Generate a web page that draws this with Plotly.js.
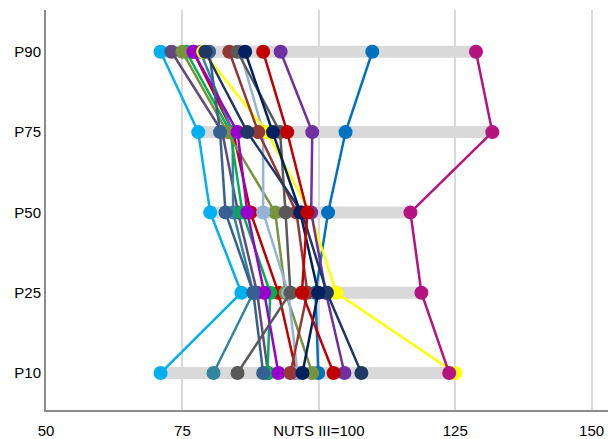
<!DOCTYPE html>
<html>
<head>
<meta charset="utf-8">
<script src="https://cdn.plot.ly/plotly-3.0.1.min.js"></script>
<style>html,body{margin:0;padding:0;background:#fff;}#chart{width:608px;height:439px;}</style>
</head>
<body>
<div id="chart"></div>
<script>
// Categories, bottom to top
const levels = ["P10", "P25", "P50", "P75", "P90"];

// Series values (index = NUTS III = 100), in order P10, P25, P50, P75, P90
const sLightBlue  = [71.0, 85.8, 80.1, 77.9, 71.0];
const sDarkPurple = [90.7, 88.7, 85.2, 82.3, 73.0];
const sTeal       = [80.7, 88.0, 84.3, 84.2, 78.3];
const sSteelBlue  = [89.8, 88.0, 82.9, 81.9, 79.9];
const sGreen      = [90.6, 91.1, 86.0, 83.8, 75.7];
const sOlive      = [98.8, 93.9, 92.0, 83.2, 75.0];
const sViolet     = [92.6, 90.0, 86.9, 85.1, 77.0];
const sRed2       = [95.9, 92.6, 87.5, 84.3, 77.0];
const sLightSteel = [96.1, 94.4, 89.8, 89.8, 85.6];
const sGray       = [85.1, 94.8, 93.9, 92.9, 85.1];
const sDarkRed    = [94.8, 97.9, 95.9, 88.9, 83.6];
const sDarkNavy   = [107.8, 101.5, 96.9, 86.9, 79.2];
const sYellow     = [125.0, 103.2, 98.4, 90.5, 78.8];
const sBlue       = [99.9, 99.4, 101.7, 104.9, 109.8];
const sNavy       = [97.0, 99.9, 96.6, 91.6, 86.5];
const sRed        = [102.7, 96.9, 97.9, 94.2, 89.8];
const sPurple     = [104.7, 101.3, 98.6, 98.8, 93.0];
const sMagenta    = [123.9, 118.8, 116.8, 131.8, 128.8];

const xTickVals = [50, 75, 100, 125, 150];
const xTickText = ["50", "75", "NUTS III=100", "125", "150"];

// Drawing order (later on top)
const series = [
  [sLightBlue, "#00b0f0"],
  [sRed2, "#c00000"],
  [sDarkPurple, "#604a7b"],
  [sTeal, "#31859c"],
  [sGreen, "#00b050"],
  [sBlue, "#0070c0"],
  [sOlive, "#77933c"],
  [sViolet, "#9900cc"],
  [sSteelBlue, "#376092"],
  [sLightSteel, "#95b3d7"],
  [sYellow, "#ffff00"],
  [sDarkRed, "#953735"],
  [sGray, "#595959"],
  [sPurple, "#7030a0"],
  [sDarkNavy, "#1f3864"],
  [sNavy, "#002060"],
  [sRed, "#c00000"],
  [sMagenta, "#b5137f"]
];

const traces = [];
// Range bars per level, from min to max over all series
levels.forEach((lv, i) => {
  const vals = series.map(s => s[0][i]);
  traces.push({
    x: [Math.min(...vals), Math.max(...vals)],
    y: [lv, lv],
    mode: "lines",
    line: {color: "#d9d9d9", width: 12},
    hoverinfo: "skip",
    showlegend: false
  });
});
series.forEach(([vals, col]) => {
  traces.push({
    x: vals,
    y: levels,
    mode: "lines+markers",
    line: {color: col, width: 2.5},
    marker: {color: col, size: 14},
    showlegend: false
  });
});

const layout = {
  width: 608, height: 439,
  margin: {l: 46, r: 0, t: 10, b: 29},
  paper_bgcolor: "#fff",
  plot_bgcolor: "#fff",
  font: {family: "Liberation Sans, Arial, sans-serif", size: 15, color: "#000"},
  showlegend: false,
  xaxis: {
    range: [50, 153],
    tickvals: xTickVals,
    ticktext: xTickText,
    showgrid: true,
    gridcolor: "#d9d9d9",
    gridwidth: 2,
    zeroline: false,
    showline: true,
    linecolor: "#8c8c8c",
    linewidth: 2,
    ticks: "",
    ticklabelstandoff: 6,
    tickfont: {size: 15, color: "#000"}
  },
  yaxis: {
    type: "category",
    categoryarray: levels,
    range: [-0.46, 4.52],
    showgrid: false,
    zeroline: false,
    showline: true,
    linecolor: "#8c8c8c",
    linewidth: 2,
    ticks: "",
    tickfont: {size: 15, color: "#000"}
  }
};

Plotly.newPlot("chart", traces, layout, {displayModeBar: false, staticPlot: true});
</script>
</body>
</html>
